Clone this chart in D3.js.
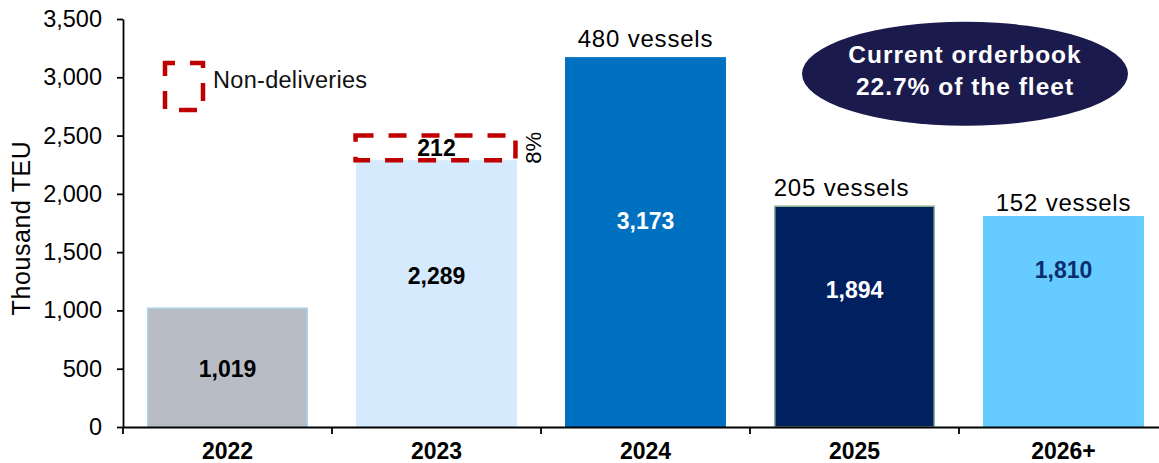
<!DOCTYPE html>
<html><head><meta charset="utf-8">
<script src="https://cdn.jsdelivr.net/npm/d3@7"></script>
<style>
html,body{margin:0;padding:0;background:#fff;}
svg{display:block;font-family:Arial,"Liberation Sans",sans-serif;}
</style></head><body>
<svg id="chart" width="1159" height="463"></svg>
<script>
// ---- data ----
const years = ["2022", "2023", "2024", "2025", "2026+"];
const deliveries = [1019, 2289, 3173, 1894, 1810];        // thousand TEU
const nonDeliveries = [null, 212, null, null, null];       // thousand TEU not delivered
const vesselCounts = [null, null, 480, 205, 152];
const yTicks = [0, 500, 1000, 1500, 2000, 2500, 3000, 3500];
const nonDeliveryShare = "8%";
const orderbookNote = ["Current orderbook", "22.7% of the fleet"];
const legendLabel = "Non-deliveries";
const yTitle = "Thousand TEU";

// ---- styling / layout ----
const barFill = ["#b8bcc4", "#d5eafc", "#0070c0", "#002060", "#66ccff"];
const barStroke = ["#a9d2e8", null, null, "#8fb38f", null];
const labelFill = ["#000", "#000", "#fff", "#fff", "#0b2d6e"];
const labelAt = [430, 1230, 1700, 1105, 1280];   // baseline height of value labels (TEU)
const vesselDx = [0, 0, 0, -13, 0];
const vesselGap = [10, 10, 10, 10, 5];
const red = "#c00000";

const svg = d3.select("#chart");
const x0 = 123, x1 = 1168, yTop = 19, yBase = 427;

const x = d3.scaleBand().domain(years).range([x0, x1])
  .paddingInner(0.23).paddingOuter(0.115);
const y = d3.scaleLinear().domain([0, 3500]).range([yBase, yTop]);

const rows = years.map((yr, i) => ({
  yr, i, v: deliveries[i], nd: nonDeliveries[i], n: vesselCounts[i]
}));

// bars
svg.append("g").selectAll("rect").data(rows).join("rect")
  .attr("x", d => x(d.yr) + (barStroke[d.i] ? 0.75 : 0))
  .attr("width", d => x.bandwidth() - (barStroke[d.i] ? 1.5 : 0))
  .attr("y", d => y(d.v))
  .attr("height", d => y(0) - y(d.v))
  .attr("fill", d => barFill[d.i])
  .attr("stroke", d => barStroke[d.i] || "none")
  .attr("stroke-width", 1.5);

// value labels
svg.append("g").selectAll("text").data(rows).join("text")
  .attr("x", d => x(d.yr) + x.bandwidth() / 2)
  .attr("y", d => y(labelAt[d.i]))
  .attr("text-anchor", "middle")
  .attr("font-size", 23).attr("font-weight", "bold")
  .attr("fill", d => labelFill[d.i])
  .text(d => d3.format(",")(d.v));

// vessel counts above bars
svg.append("g").selectAll("text").data(rows.filter(d => d.n != null)).join("text")
  .attr("x", d => x(d.yr) + x.bandwidth() / 2 + vesselDx[d.i])
  .attr("y", d => y(d.v) - vesselGap[d.i])
  .attr("text-anchor", "middle")
  .attr("font-size", 24).attr("letter-spacing", 0.8).attr("fill", "#000")
  .text(d => d.n + " vessels");

// non-delivered volume stacked as a dashed box
const ndRows = rows.filter(d => d.nd != null);
svg.append("g").selectAll("rect").data(ndRows).join("rect")
  .attr("x", d => x(d.yr) - 0.5)
  .attr("width", x.bandwidth() - 1)
  .attr("y", d => y(d.v + d.nd))
  .attr("height", d => y(d.v) - y(d.v + d.nd))
  .attr("fill", "none").attr("stroke", red)
  .attr("stroke-width", 4.5).attr("stroke-dasharray", "18,15");

svg.append("g").selectAll("text").data(ndRows).join("text")
  .attr("x", d => x(d.yr) + x.bandwidth() / 2)
  .attr("y", d => (y(d.v) + y(d.v + d.nd)) / 2 + 8.5)
  .attr("text-anchor", "middle")
  .attr("font-size", 23).attr("font-weight", "bold")
  .text(d => d.nd);

svg.append("g").selectAll("text").data(ndRows).join("text")
  .attr("transform", d => `translate(${x(d.yr) + x.bandwidth() + 24},${(y(d.v) + y(d.v + d.nd)) / 2}) rotate(-90)`)
  .attr("text-anchor", "middle")
  .attr("font-size", 22)
  .text(nonDeliveryShare);

// y axis
const yAxis = svg.append("g").attr("transform", `translate(${x0},0)`)
  .call(d3.axisLeft(y).tickValues(yTicks).tickSize(6).tickSizeOuter(0)
    .tickPadding(15).tickFormat(d3.format(",")));
yAxis.selectAll("path, line").attr("stroke", "#000").attr("stroke-width", 1.8);
yAxis.selectAll("text").attr("font-size", 23.5).attr("fill", "#000")
  .attr("font-family", "Arial, 'Liberation Sans', sans-serif");

// x axis: category labels centred, ticks between categories
const xAxis = svg.append("g").attr("transform", `translate(0,${yBase})`)
  .call(d3.axisBottom(x).tickSize(0).tickSizeOuter(0));
xAxis.select(".domain").attr("stroke", "#000").attr("stroke-width", 1.8);
xAxis.selectAll("text").attr("font-size", 23).attr("font-weight", "bold")
  .attr("fill", "#000").attr("y", 32).attr("dy", null)
  .attr("font-family", "Arial, 'Liberation Sans', sans-serif");
xAxis.selectAll(".bound").data(years).join("line").attr("class", "bound")
  .attr("x1", d => x(d) - x.step() * x.paddingInner() / 2)
  .attr("x2", d => x(d) - x.step() * x.paddingInner() / 2)
  .attr("y1", 0).attr("y2", 7)
  .attr("stroke", "#000").attr("stroke-width", 1.8);

// y axis title
svg.append("text")
  .attr("transform", `translate(30,${(yTop + yBase) / 2 + 5}) rotate(-90)`)
  .attr("text-anchor", "middle").attr("font-size", 25).attr("letter-spacing", 0.6)
  .attr("fill", "#000")
  .text(yTitle);

// legend
svg.append("rect").attr("x", 165).attr("y", 63).attr("width", 38).attr("height", 47)
  .attr("fill", "none").attr("stroke", red).attr("stroke-width", 4.5)
  .attr("stroke-dasharray", "18,15").attr("stroke-dashoffset", 8);
svg.append("text").attr("x", 213).attr("y", 88).attr("font-size", 23.5)
  .attr("letter-spacing", 0.3).attr("fill", "#111").text(legendLabel);

// orderbook note
const cx = x("2026+") - x.step() * x.paddingInner() / 2 + 6;
const cy = y(3030);
svg.append("ellipse").attr("cx", cx).attr("cy", cy).attr("rx", 163).attr("ry", 52)
  .attr("fill", "#1b1a4c");
svg.append("g").selectAll("text").data(orderbookNote).join("text")
  .attr("x", cx).attr("y", (d, i) => cy - 11 + i * 32)
  .attr("text-anchor", "middle").attr("font-size", 24.5).attr("font-weight", "bold")
  .attr("letter-spacing", 1).attr("fill", "#fff").text(d => d);
</script>
</body></html>
